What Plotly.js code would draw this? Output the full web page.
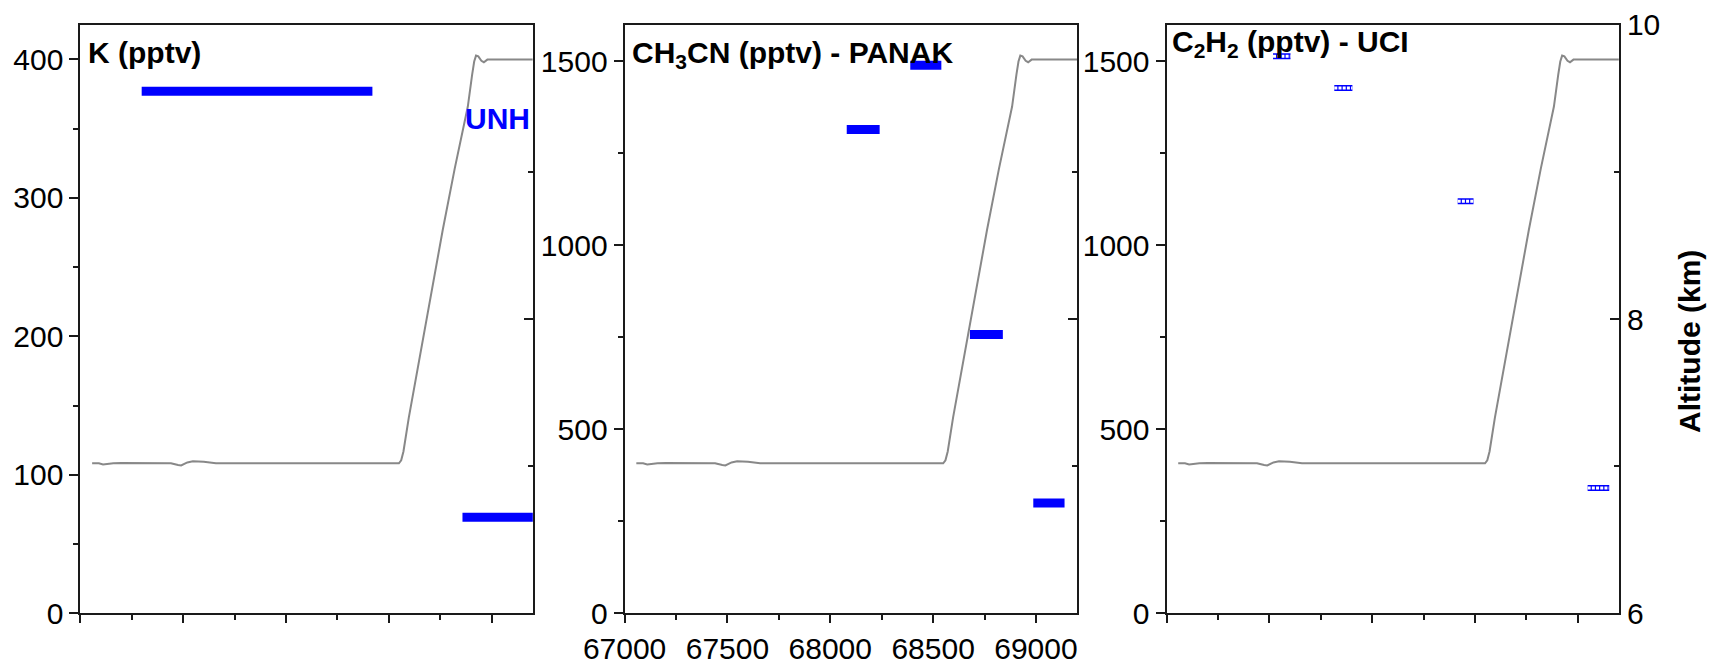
<!DOCTYPE html>
<html>
<head>
<meta charset="utf-8">
<script src="https://cdn.plot.ly/plotly-3.0.1.min.js"></script>
<style>
  html, body { margin: 0; padding: 0; background: #fff; }
  #chart { width: 1715px; height: 668px; }
</style>
</head>
<body>
<div id="chart"></div>
<script>
// Elapsed time (s), shared by the three panels
const timeRange = [67000, 69200];
const timeTicks = [67000, 67500, 68000, 68500, 69000];

// Aircraft altitude (km), grey trace repeated in every panel
const altTime = [67057, 67090, 67110, 67130, 67160, 67200, 67300, 67440, 67475, 67490, 67520, 67547,
                 67600, 67659, 67800, 68000, 68300, 68549, 68560, 68571, 68597, 68623, 68700,
                 68762, 68820, 68884, 68905, 68915, 68924, 68935, 68950, 68962, 68979, 69050, 69200];
const altKm = [7.020, 7.020, 7.012, 7.016, 7.020, 7.022, 7.020, 7.020, 7.008, 7.005, 7.026, 7.033,
               7.030, 7.021, 7.020, 7.020, 7.020, 7.020, 7.040, 7.100, 7.330, 7.534, 8.130,
               8.605, 9.020, 9.444, 9.660, 9.750, 9.790, 9.785, 9.755, 9.745, 9.763, 9.763, 9.763];

// K (pptv) - UNH
const kStart = [67298, 68858];
const kStop  = [68420, 69230];
const kValue = [377, 69.5];
const kTicks = [0, 100, 200, 300, 400];

// CH3CN (pptv) - PANAK
const acnStart = [68080, 68389, 68679, 68987];
const acnStop  = [68240, 68540, 68839, 69139];
const acnValue = [1315, 1490, 758, 300];

// C2H2 (pptv) - UCI
const c2h2Start = [67518, 67816, 68416, 69048];
const c2h2Stop  = [67603, 67904, 68493, 69153];
const c2h2Value = [1514, 1428, 1120, 341];

const mixTicks = [0, 500, 1000, 1500];
const altTicks = [6, 8, 10];

const FONT = '"Liberation Sans", Arial, sans-serif';
const INK = '#1a1a1a';
const BLUE = '#0000ff';
const GREY = '#888888';

// Each sample becomes a horizontal segment from start to stop time
function segments(starts, stops, values) {
  const x = [], y = [];
  starts.forEach((s, i) => {
    x.push(s, stops[i], null);
    y.push(values[i], values[i], null);
  });
  return { x, y };
}

const kSeg = segments(kStart, kStop, kValue);
const acnSeg = segments(acnStart, acnStop, acnValue);
const c2h2Seg = segments(c2h2Start, c2h2Stop, c2h2Value);

function altTrace(xa, ya) {
  return { x: altTime, y: altKm, xaxis: xa, yaxis: ya, type: 'scatter', mode: 'lines',
           line: { color: GREY, width: 2 }, hoverinfo: 'skip', showlegend: false };
}

const data = [
  { x: kSeg.x, y: kSeg.y, xaxis: 'x', yaxis: 'y', type: 'scatter', mode: 'lines',
    line: { color: BLUE, width: 9 }, showlegend: false },
  altTrace('x', 'y4'),
  { x: acnSeg.x, y: acnSeg.y, xaxis: 'x2', yaxis: 'y2', type: 'scatter', mode: 'lines',
    line: { color: BLUE, width: 9 }, showlegend: false },
  altTrace('x2', 'y5'),
  { x: c2h2Seg.x, y: c2h2Seg.y, xaxis: 'x3', yaxis: 'y3', type: 'scatter', mode: 'lines',
    line: { color: BLUE, width: 6 }, showlegend: false },
  { x: c2h2Seg.x, y: c2h2Seg.y, xaxis: 'x3', yaxis: 'y3', type: 'scatter', mode: 'lines',
    line: { color: '#ffffff', width: 3, dash: '3px,1.2px' }, showlegend: false },
  altTrace('x3', 'y6')
];

const W = 1715, H = 668;
const yDomain = [1 - 613.4 / H, 1 - 24.7 / H];
const xDomains = [[80.4 / W, 532.8 / W], [624.6 / W, 1077.1 / W], [1166.5 / W, 1618.9 / W]];

const base = {
  showline: true, linecolor: INK, linewidth: 2, showgrid: false, zeroline: false,
  tickcolor: INK, tickwidth: 2, automargin: false, fixedrange: true,
  tickfont: { family: FONT, size: 30, color: '#000' }
};

function xAxis(i, labels) {
  return Object.assign({}, base, {
    domain: xDomains[i], anchor: i === 0 ? 'y' : 'y' + (i + 1), range: timeRange,
    tickmode: 'array', tickvals: timeTicks, ticktext: timeTicks.map(String),
    ticks: 'outside', ticklen: 8, mirror: true, showticklabels: labels,
    minor: { tick0: 67000, dtick: 250, ticks: 'outside', ticklen: 5, tickcolor: INK, tickwidth: 2 }
  });
}

function yAxis(i, range, ticks, minorStep) {
  return Object.assign({}, base, {
    domain: yDomain, anchor: i === 0 ? 'x' : 'x' + (i + 1), range: range,
    tickmode: 'array', tickvals: ticks, ticktext: ticks.map(String),
    ticks: 'outside', ticklen: 9,
    minor: { tick0: 0, dtick: minorStep, ticks: 'outside', ticklen: 5, tickcolor: INK, tickwidth: 2 }
  });
}

function altAxis(i, labels) {
  return Object.assign({}, base, {
    overlaying: i === 0 ? 'y' : 'y' + (i + 1), anchor: i === 0 ? 'x' : 'x' + (i + 1),
    side: 'right', range: [6, 10],
    tickmode: 'array', tickvals: altTicks, ticktext: altTicks.map(String),
    ticks: 'inside', ticklen: 9, showticklabels: labels,
    minor: { tick0: 6, dtick: 1, ticks: 'inside', ticklen: 5, tickcolor: INK, tickwidth: 2 }
  });
}

function label(text, px, py, opts) {
  return Object.assign({
    text: text, xref: 'paper', yref: 'paper', x: px / W, y: 1 - py / H,
    xanchor: 'left', yanchor: 'middle', showarrow: false,
    font: { family: FONT, size: 30, color: '#000', weight: 'bold' }
  }, opts || {});
}

const layout = {
  width: W, height: H,
  margin: { l: 0, r: 0, t: 0, b: 0 },
  paper_bgcolor: '#fff', plot_bgcolor: 'rgba(0,0,0,0)',
  showlegend: false,
  xaxis: xAxis(0, false),
  xaxis2: xAxis(1, true),
  xaxis3: xAxis(2, false),
  yaxis: yAxis(0, [0, 425], kTicks, 50),
  yaxis2: yAxis(1, [0, 1600], mixTicks, 250),
  yaxis3: yAxis(2, [0, 1600], mixTicks, 250),
  yaxis4: altAxis(0, false),
  yaxis5: altAxis(1, false),
  yaxis6: altAxis(2, true),
  annotations: [
    label('<b>K (pptv)</b>', 86, 52),
    label('<b>CH<sub>3</sub>CN (pptv) - PANAK</b>', 630, 54),
    label('<b>C<sub>2</sub>H<sub>2</sub> (pptv) - UCI</b>', 1170, 44),
    label('<b>UNH</b>', 463, 118, { font: { family: FONT, size: 30, color: BLUE } }),
    label('<b>Altitude (km)</b>', 1689, 342, { xanchor: 'center', textangle: -90 })
  ]
};

Plotly.newPlot('chart', data, layout, { displayModeBar: false, staticPlot: true });
</script>
</body>
</html>
